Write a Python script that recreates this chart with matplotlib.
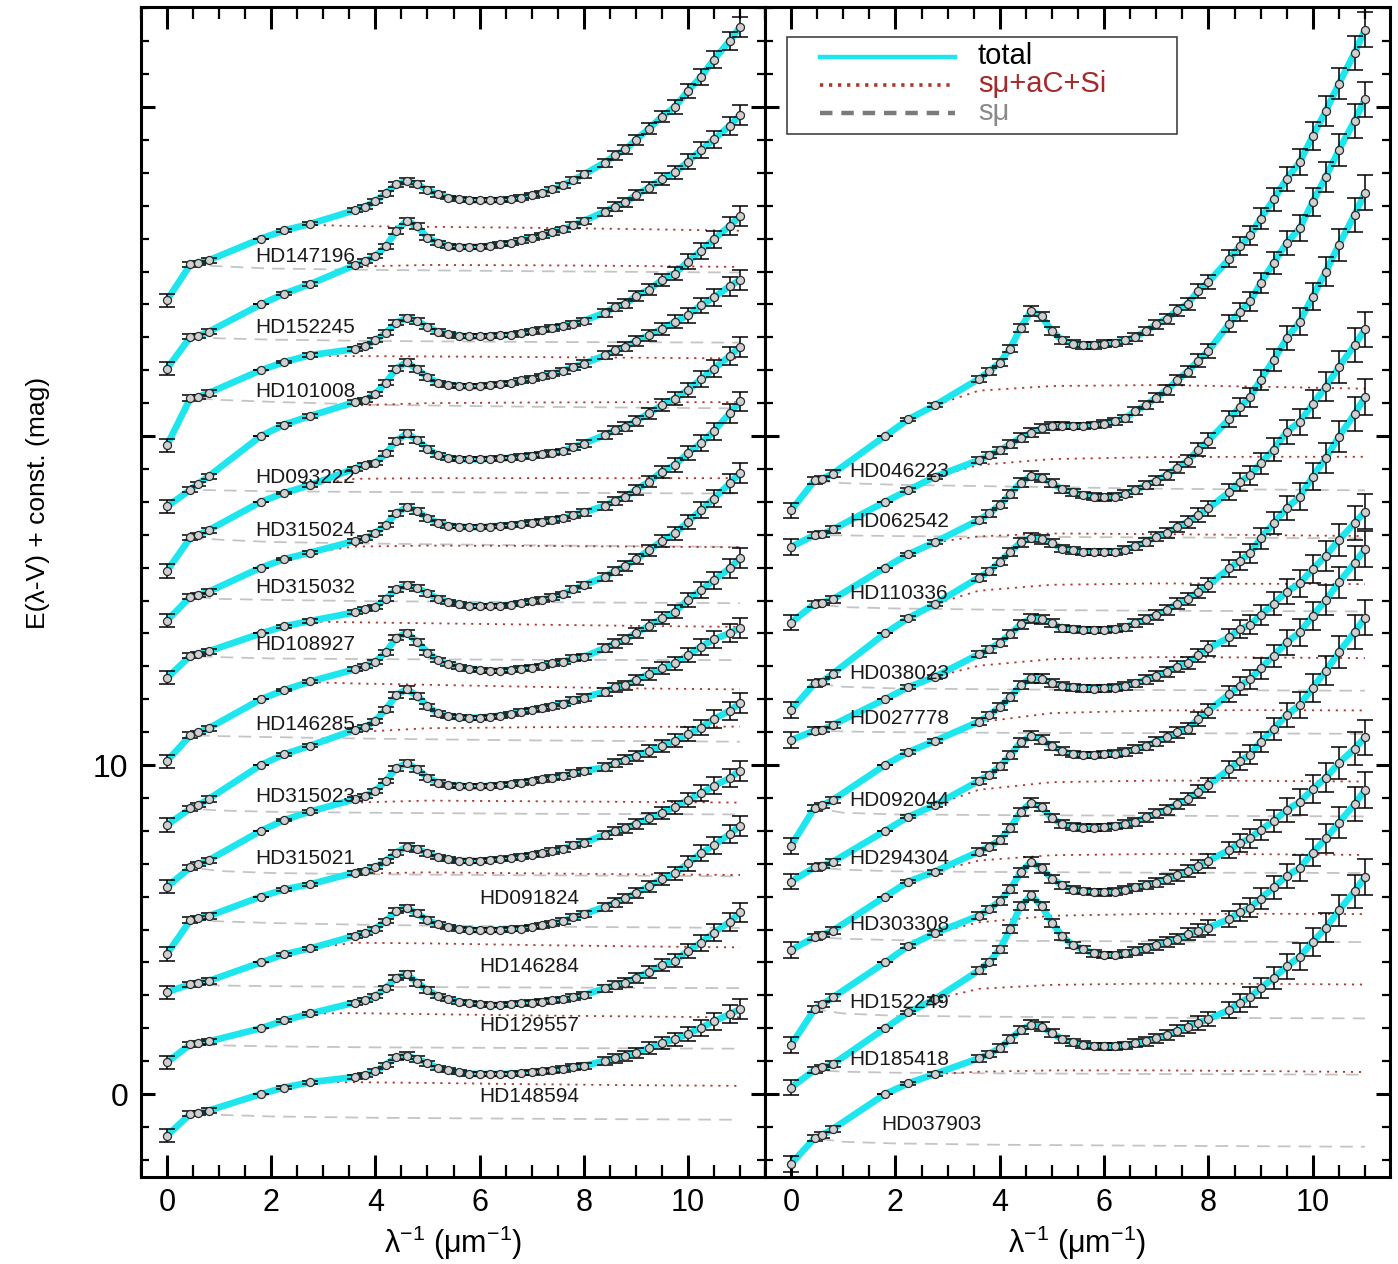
import matplotlib
matplotlib.use('Agg')
import matplotlib.pyplot as plt
from matplotlib.lines import Line2D
from matplotlib.patches import Rectangle
from matplotlib.ticker import MultipleLocator, FixedLocator

plt.rcParams['font.family'] = ['Liberation Sans', 'DejaVu Sans']
plt.rcParams['mathtext.fontset'] = 'custom'
plt.rcParams['mathtext.rm'] = 'Liberation Sans'
plt.rcParams['mathtext.default'] = 'regular'

# ---------------- data ----------------
# observed wavenumbers (1/micron)
X = [0, 0.45, 0.6, 0.8, 1.8, 2.25, 2.75,
     3.6, 3.8, 4.0, 4.2, 4.4, 4.6, 4.8, 5.0, 5.2, 5.4, 5.6, 5.8, 6.0,
     6.2, 6.4, 6.6, 6.8, 7.0, 7.2, 7.4, 7.6, 7.8, 8.0,
     8.4, 8.6, 8.8, 9.0, 9.25, 9.5, 9.75, 10.0, 10.25, 10.5, 10.8, 11.0]
# model nodes
XT = [0, 0.45, 0.8, 1.8, 2.75, 3.6, 5.0, 7.0, 9.0, 11.0]   # s-mu + aC + Si
XD = [0, 0.45, 1.0, 2.0, 4.0, 7.0, 11.0]                   # s-mu

ERR_L = [0.20, 0.08, 0.06, 0.08, 0.0, 0.04, 0.05,
         0.06, 0.06, 0.06, 0.07, 0.08, 0.10, 0.09, 0.08, 0.07, 0.06, 0.06, 0.06, 0.06,
         0.06, 0.06, 0.06, 0.07, 0.07, 0.07, 0.08, 0.08, 0.09, 0.10,
         0.12, 0.13, 0.14, 0.15, 0.17, 0.18, 0.20, 0.22, 0.24, 0.26, 0.28, 0.30]
ERR_R = [0.24, 0.10, 0.08, 0.10, 0.0, 0.05, 0.06,
         0.10, 0.10, 0.11, 0.12, 0.13, 0.14, 0.13, 0.12, 0.11, 0.10, 0.10, 0.10, 0.10,
         0.10, 0.11, 0.12, 0.13, 0.14, 0.15, 0.16, 0.18, 0.20, 0.22,
         0.25, 0.27, 0.29, 0.31, 0.34, 0.37, 0.40, 0.42, 0.45, 0.48, 0.51, 0.54]

# ---- left panel: E(lambda-V) ----
E_HD147196 = [-1.87, -0.78, -0.73, -0.66, 0, 0.25, 0.45,
              0.86, 0.97, 1.14, 1.38, 1.65, 1.75, 1.65, 1.48, 1.35, 1.25, 1.20, 1.17, 1.16,
              1.17, 1.17, 1.20, 1.25, 1.32, 1.38, 1.50, 1.62, 1.78, 1.95,
              2.31, 2.53, 2.71, 3.00, 3.34, 3.71, 4.00, 4.49, 4.92, 5.44, 6.01, 6.43]
E_HD152245 = [-1.95, -0.98, -0.96, -0.83, 0, 0.33, 0.62,
              1.19, 1.31, 1.47, 1.77, 2.23, 2.54, 2.38, 2.03, 1.87, 1.78, 1.75, 1.75, 1.75,
              1.78, 1.83, 1.87, 1.95, 2.03, 2.10, 2.19, 2.28, 2.41, 2.54,
              2.82, 2.97, 3.10, 3.32, 3.55, 3.81, 4.01, 4.34, 4.69, 5.02, 5.43, 5.75]
E_HD101008 = [-2.28, -0.84, -0.81, -0.69, 0, 0.25, 0.46,
              0.64, 0.74, 0.91, 1.14, 1.44, 1.59, 1.50, 1.32, 1.17, 1.09, 1.05, 1.03, 1.03,
              1.04, 1.06, 1.08, 1.13, 1.18, 1.23, 1.28, 1.34, 1.42, 1.50,
              1.75, 1.92, 2.02, 2.25, 2.45, 2.74, 2.94, 3.30, 3.63, 3.98, 4.39, 4.68]
E_HD093222 = [-2.14, -1.63, -1.45, -1.22, 0, 0.35, 0.61,
              1.03, 1.09, 1.29, 1.62, 2.05, 2.25, 2.03, 1.79, 1.61, 1.56, 1.52, 1.51, 1.51,
              1.54, 1.57, 1.61, 1.69, 1.74, 1.81, 1.90, 1.98, 2.10, 2.20,
              2.45, 2.60, 2.71, 2.89, 3.06, 3.26, 3.47, 3.67, 3.97, 4.22, 4.55, 4.75]
E_HD315024 = [-2.10, -1.08, -1.01, -0.86, 0, 0.27, 0.51,
              1.01, 1.12, 1.19, 1.47, 1.85, 2.08, 1.88, 1.62, 1.42, 1.34, 1.30, 1.29, 1.29,
              1.31, 1.32, 1.34, 1.37, 1.40, 1.44, 1.49, 1.54, 1.67, 1.77,
              2.03, 2.18, 2.28, 2.46, 2.69, 2.94, 3.14, 3.40, 3.73, 4.05, 4.43, 4.71]
E_HD315032 = [-1.61, -0.88, -0.83, -0.73, 0, 0.26, 0.46,
              0.81, 0.89, 1.05, 1.30, 1.65, 1.84, 1.73, 1.50, 1.37, 1.28, 1.25, 1.23, 1.23,
              1.25, 1.27, 1.30, 1.33, 1.37, 1.40, 1.45, 1.50, 1.60, 1.68,
              1.88, 2.03, 2.16, 2.36, 2.61, 2.92, 3.12, 3.48, 3.78, 4.15, 4.69, 5.05]
E_HD108927 = [-1.35, -0.68, -0.61, -0.54, 0, 0.22, 0.38,
              0.64, 0.73, 0.81, 1.06, 1.34, 1.47, 1.39, 1.22, 1.06, 0.96, 0.89, 0.84, 0.83,
              0.83, 0.84, 0.88, 0.93, 0.98, 1.03, 1.11, 1.19, 1.34, 1.47,
              1.72, 1.90, 2.05, 2.25, 2.53, 2.81, 3.04, 3.39, 3.75, 4.10, 4.56, 4.88]
E_HD146285 = [-1.88, -1.09, -1.01, -0.88, 0, 0.28, 0.54,
              0.91, 1.01, 1.14, 1.43, 1.87, 2.02, 1.75, 1.42, 1.19, 1.07, 0.99, 0.93, 0.89,
              0.87, 0.87, 0.89, 0.93, 0.96, 1.01, 1.09, 1.14, 1.25, 1.29,
              1.55, 1.70, 1.82, 2.01, 2.23, 2.46, 2.66, 3.02, 3.32, 3.62, 3.98, 4.29]
E_HD315023 = [-1.82, -1.32, -1.22, -1.03, 0, 0.33, 0.59,
              1.07, 1.15, 1.35, 1.69, 2.13, 2.30, 2.11, 1.79, 1.57, 1.49, 1.45, 1.44, 1.44,
              1.47, 1.50, 1.55, 1.62, 1.67, 1.72, 1.79, 1.87, 1.97, 2.05,
              2.23, 2.36, 2.43, 2.58, 2.77, 2.94, 3.09, 3.34, 3.60, 3.82, 4.01, 4.16]
E_HD315021 = [-1.70, -1.11, -1.01, -0.89, 0, 0.33, 0.59,
              0.96, 1.06, 1.22, 1.52, 1.90, 2.06, 1.88, 1.62, 1.47, 1.39, 1.37, 1.35, 1.35,
              1.37, 1.39, 1.42, 1.47, 1.52, 1.57, 1.62, 1.67, 1.75, 1.82,
              1.93, 2.06, 2.16, 2.28, 2.43, 2.58, 2.74, 2.94, 3.14, 3.40, 3.65, 3.88]
E_HD091824 = [-1.74, -0.71, -0.66, -0.59, 0, 0.22, 0.38,
              0.73, 0.79, 0.89, 1.09, 1.34, 1.52, 1.45, 1.32, 1.20, 1.14, 1.09, 1.09, 1.09,
              1.12, 1.14, 1.17, 1.22, 1.27, 1.32, 1.39, 1.45, 1.57, 1.64,
              1.88, 2.00, 2.08, 2.21, 2.38, 2.55, 2.72, 2.94, 3.14, 3.37, 3.60, 3.83]
E_HD146284 = [-0.90, -0.66, -0.61, -0.56, 0, 0.25, 0.43,
              0.81, 0.89, 1.03, 1.26, 1.57, 1.65, 1.49, 1.29, 1.16, 1.09, 1.03, 0.99, 0.98,
              0.98, 0.99, 1.01, 1.03, 1.08, 1.13, 1.19, 1.26, 1.37, 1.47,
              1.69, 1.82, 1.95, 2.11, 2.31, 2.55, 2.71, 3.01, 3.32, 3.56, 3.90, 4.15]
E_HD129557 = [-1.03, -0.49, -0.46, -0.40, 0, 0.24, 0.45,
              0.78, 0.85, 0.98, 1.22, 1.54, 1.64, 1.39, 1.16, 0.98, 0.88, 0.81, 0.76, 0.73,
              0.71, 0.71, 0.73, 0.76, 0.78, 0.81, 0.85, 0.88, 0.95, 1.01,
              1.21, 1.32, 1.39, 1.54, 1.71, 1.92, 2.05, 2.35, 2.60, 2.91, 3.23, 3.52]
E_HD148594 = [-1.26, -0.60, -0.58, -0.50, 0, 0.20, 0.36,
              0.52, 0.59, 0.69, 0.89, 1.12, 1.17, 1.07, 0.94, 0.79, 0.72, 0.66, 0.62, 0.61,
              0.61, 0.61, 0.62, 0.64, 0.66, 0.69, 0.72, 0.76, 0.81, 0.86,
              1.01, 1.09, 1.16, 1.26, 1.40, 1.55, 1.67, 1.83, 2.02, 2.21, 2.43, 2.58]

# ---- right panel: E(lambda-V) ----
E_HD046223 = [-2.26, -1.35, -1.30, -1.14, 0, 0.51, 0.93,
              1.74, 1.97, 2.23, 2.66, 3.29, 3.80, 3.64, 3.19, 2.91, 2.81, 2.76, 2.76, 2.81,
              2.83, 2.91, 3.01, 3.19, 3.40, 3.57, 3.82, 4.02, 4.41, 4.68,
              5.39, 5.77, 6.10, 6.61, 7.19, 7.82, 8.33, 9.12, 9.88, 10.71, 11.64, 12.35]
E_HD062542 = [-1.37, -1.01, -0.98, -0.84, 0, 0.36, 0.76,
              1.27, 1.42, 1.57, 1.75, 1.95, 2.10, 2.23, 2.30, 2.31, 2.31, 2.31, 2.33, 2.38,
              2.45, 2.54, 2.76, 2.94, 3.17, 3.40, 3.70, 3.96, 4.29, 4.59,
              5.42, 5.78, 6.09, 6.65, 7.26, 7.87, 8.32, 9.12, 9.88, 10.69, 11.58, 12.23]
E_HD110336 = [-1.67, -1.10, -1.06, -0.96, 0, 0.41, 0.77,
              1.45, 1.65, 1.91, 2.24, 2.58, 2.79, 2.72, 2.57, 2.38, 2.29, 2.21, 2.16, 2.14,
              2.16, 2.25, 2.35, 2.51, 2.64, 2.82, 3.04, 3.25, 3.58, 3.86,
              4.52, 4.88, 5.18, 5.71, 6.31, 6.97, 7.48, 8.24, 9.00, 9.81, 10.72, 11.40]
E_HD038023 = [-2.33, -1.52, -1.47, -1.22, 0, 0.47, 0.89,
              1.70, 1.89, 2.18, 2.48, 2.77, 2.91, 2.86, 2.74, 2.58, 2.53, 2.48, 2.48, 2.48,
              2.48, 2.55, 2.65, 2.78, 2.94, 3.04, 3.24, 3.39, 3.60, 3.80,
              4.30, 4.61, 4.81, 5.17, 5.59, 6.13, 6.43, 6.97, 7.50, 8.10, 8.76, 9.24]
E_HD027778 = [-1.24, -0.95, -0.93, -0.78, 0, 0.37, 0.68,
              1.37, 1.52, 1.72, 1.98, 2.28, 2.46, 2.43, 2.31, 2.16, 2.13, 2.11, 2.11, 2.11,
              2.13, 2.19, 2.31, 2.43, 2.56, 2.71, 2.91, 3.04, 3.27, 3.47,
              3.98, 4.21, 4.44, 4.89, 5.35, 5.81, 6.16, 6.77, 7.33, 7.98, 8.67, 9.18]
E_HD092044 = [-2.45, -1.30, -1.22, -1.06, 0, 0.40, 0.73,
              1.32, 1.52, 1.77, 2.06, 2.43, 2.64, 2.63, 2.50, 2.40, 2.36, 2.33, 2.32, 2.33,
              2.35, 2.40, 2.48, 2.60, 2.71, 2.84, 2.99, 3.11, 3.34, 3.55,
              3.88, 4.13, 4.26, 4.56, 4.91, 5.27, 5.52, 5.96, 6.36, 6.84, 7.35, 7.70]
E_HD294304 = [-1.54, -1.11, -1.06, -0.94, 0, 0.43, 0.78,
              1.52, 1.70, 1.96, 2.30, 2.69, 2.89, 2.77, 2.58, 2.43, 2.33, 2.30, 2.30, 2.33,
              2.35, 2.40, 2.48, 2.58, 2.71, 2.84, 2.99, 3.11, 3.40, 3.65,
              4.16, 4.41, 4.61, 4.94, 5.32, 5.73, 6.03, 6.54, 7.02, 7.55, 8.14, 8.56]
E_HD303308 = [-1.62, -1.23, -1.16, -1.03, 0, 0.46, 0.76,
              1.37, 1.52, 1.72, 2.08, 2.58, 2.86, 2.72, 2.38, 2.21, 2.13, 2.10, 2.10, 2.11,
              2.15, 2.21, 2.28, 2.41, 2.53, 2.64, 2.82, 2.96, 3.19, 3.40,
              3.87, 4.13, 4.31, 4.71, 5.10, 5.52, 5.83, 6.35, 6.87, 7.43, 8.04, 8.48]
E_HD152249 = [-2.51, -1.42, -1.27, -1.06, 0, 0.50, 0.89,
              1.42, 1.62, 1.87, 2.23, 2.74, 3.06, 2.86, 2.55, 2.35, 2.21, 2.17, 2.14, 2.13,
              2.15, 2.21, 2.28, 2.35, 2.43, 2.55, 2.65, 2.78, 2.92, 3.09,
              3.42, 3.63, 3.77, 4.03, 4.30, 4.63, 4.88, 5.27, 5.62, 6.06, 6.50, 6.84]
E_HD185418 = [-1.80, -1.27, -1.19, -1.09, 0, 0.48, 0.88,
              1.76, 2.02, 2.40, 3.01, 3.72, 4.04, 3.72, 3.21, 2.79, 2.53, 2.40, 2.28, 2.23,
              2.23, 2.28, 2.35, 2.43, 2.53, 2.61, 2.71, 2.86, 2.96, 3.06,
              3.32, 3.52, 3.67, 3.94, 4.28, 4.63, 4.88, 5.34, 5.77, 6.25, 6.81, 7.24]
E_HD037903 = [-2.12, -1.34, -1.24, -1.06, 0, 0.33, 0.61,
              1.09, 1.22, 1.40, 1.67, 1.95, 2.11, 2.05, 1.85, 1.67, 1.57, 1.50, 1.46, 1.45,
              1.45, 1.48, 1.55, 1.60, 1.70, 1.80, 1.93, 2.04, 2.16, 2.28,
              2.56, 2.78, 2.95, 3.22, 3.53, 3.88, 4.18, 4.62, 5.06, 5.58, 6.16, 6.60]

# ---- model components: s-mu + aC + Si (at XT) ----
T_HD147196 = [-1.87, -0.78, -0.66, 0, 0.42, 0.38, 0.36, 0.33, 0.29, 0.24]
T_HD152245 = [-1.95, -0.98, -0.83, 0, 0.62, 1.15, 1.20, 1.19, 1.17, 1.14]
T_HD101008 = [-2.28, -0.84, -0.69, 0, 0.44, 0.43, 0.42, 0.40, 0.38, 0.36]
T_HD093222 = [-2.14, -1.63, -1.22, 0, 0.61, 0.93, 1.00, 1.02, 1.03, 1.03]
T_HD315024 = [-2.10, -1.08, -0.86, 0, 0.51, 0.70, 0.72, 0.72, 0.72, 0.72]
T_HD315032 = [-1.61, -0.88, -0.73, 0, 0.46, 0.64, 0.67, 0.66, 0.64, 0.62]
T_HD108927 = [-1.35, -0.68, -0.54, 0, 0.36, 0.34, 0.31, 0.27, 0.23, 0.20]
T_HD146285 = [-1.88, -1.09, -0.88, 0, 0.52, 0.48, 0.44, 0.38, 0.33, 0.30]
T_HD315023 = [-1.82, -1.32, -1.03, 0, 0.59, 1.00, 1.12, 1.15, 1.16, 1.17]
T_HD315021 = [-1.70, -1.11, -0.89, 0, 0.59, 0.86, 0.92, 0.90, 0.88, 0.86]
T_HD091824 = [-1.74, -0.71, -0.59, 0, 0.38, 0.70, 0.74, 0.71, 0.68, 0.66]
T_HD146284 = [-0.90, -0.66, -0.56, 0, 0.43, 0.60, 0.58, 0.53, 0.49, 0.46]
T_HD129557 = [-1.03, -0.49, -0.40, 0, 0.45, 0.46, 0.43, 0.39, 0.36, 0.33]
T_HD148594 = [-1.26, -0.60, -0.50, 0, 0.36, 0.36, 0.34, 0.30, 0.27, 0.25]
T_HD046223 = [-2.26, -1.35, -1.14, 0, 0.93, 1.38, 1.52, 1.55, 1.50, 1.44]
T_HD062542 = [-1.37, -1.01, -0.84, 0, 0.76, 1.12, 1.30, 1.36, 1.37, 1.37]
T_HD110336 = [-1.67, -1.10, -0.96, 0, 0.77, 0.95, 1.04, 1.02, 0.99, 0.96]
T_HD038023 = [-2.33, -1.52, -1.22, 0, 0.89, 1.30, 1.48, 1.52, 1.51, 1.50]
T_HD027778 = [-1.24, -0.95, -0.78, 0, 0.68, 1.02, 1.22, 1.28, 1.27, 1.25]
T_HD092044 = [-2.45, -1.30, -1.06, 0, 0.73, 1.30, 1.58, 1.66, 1.67, 1.66]
T_HD294304 = [-1.54, -1.11, -0.94, 0, 0.78, 1.25, 1.48, 1.53, 1.52, 1.50]
T_HD303308 = [-1.62, -1.23, -1.03, 0, 0.76, 1.10, 1.26, 1.30, 1.29, 1.27]
T_HD152249 = [-2.51, -1.42, -1.06, 0, 0.89, 1.22, 1.42, 1.48, 1.48, 1.47]
T_HD185418 = [-1.80, -1.27, -1.09, 0, 0.88, 1.20, 1.32, 1.36, 1.35, 1.33]
T_HD037903 = [-2.12, -1.34, -1.06, 0, 0.61, 0.68, 0.72, 0.72, 0.70, 0.67]

# ---- model components: s-mu only (at XD) ----
D_HD147196 = [-1.87, -0.78, -0.84, -0.91, -0.95, -0.99, -1.03]
D_HD152245 = [-1.95, -0.98, -1.03, -1.07, -1.11, -1.14, -1.16]
D_HD101008 = [-2.28, -0.84, -0.90, -0.96, -1.05, -1.11, -1.16]
D_HD093222 = [-2.14, -1.63, -1.65, -1.68, -1.70, -1.72, -1.75]
D_HD315024 = [-2.10, -1.08, -1.15, -1.22, -1.27, -1.32, -1.37]
D_HD315032 = [-1.61, -0.88, -0.95, -0.98, -1.02, -1.05, -1.08]
D_HD108927 = [-1.35, -0.68, -0.72, -0.76, -0.78, -0.80, -0.81]
D_HD146285 = [-1.88, -1.09, -1.12, -1.15, -1.20, -1.25, -1.29]
D_HD315023 = [-1.82, -1.32, -1.38, -1.42, -1.45, -1.48, -1.50]
D_HD315021 = [-1.70, -1.11, -1.22, -1.28, -1.32, -1.35, -1.38]
D_HD091824 = [-1.74, -0.71, -0.75, -0.80, -0.86, -0.91, -0.95]
D_HD146284 = [-0.90, -0.66, -0.70, -0.72, -0.74, -0.76, -0.78]
D_HD129557 = [-1.03, -0.49, -0.52, -0.55, -0.58, -0.60, -0.62]
D_HD148594 = [-1.26, -0.60, -0.63, -0.68, -0.72, -0.75, -0.78]
D_HD046223 = [-2.26, -1.35, -1.43, -1.48, -1.53, -1.60, -1.65]
D_HD062542 = [-1.37, -1.01, -1.02, -1.04, -1.06, -1.08, -1.11]
D_HD110336 = [-1.67, -1.10, -1.20, -1.24, -1.28, -1.31, -1.33]
D_HD038023 = [-2.33, -1.52, -1.62, -1.67, -1.70, -1.72, -1.74]
D_HD027778 = [-1.24, -0.95, -0.98, -1.00, -1.02, -1.03, -1.05]
D_HD092044 = [-2.45, -1.30, -1.45, -1.50, -1.52, -1.54, -1.56]
D_HD294304 = [-1.54, -1.11, -1.18, -1.23, -1.25, -1.27, -1.28]
D_HD303308 = [-1.62, -1.23, -1.28, -1.32, -1.34, -1.36, -1.38]
D_HD152249 = [-2.51, -1.42, -1.55, -1.62, -1.65, -1.68, -1.70]
D_HD185418 = [-1.80, -1.27, -1.32, -1.35, -1.37, -1.39, -1.41]
D_HD037903 = [-2.12, -1.34, -1.45, -1.50, -1.54, -1.57, -1.60]

LEFT_NAMES = ['HD147196', 'HD152245', 'HD101008', 'HD093222', 'HD315024', 'HD315032',
              'HD108927', 'HD146285', 'HD315023', 'HD315021', 'HD091824', 'HD146284',
              'HD129557', 'HD148594']
LEFT_CONST = [26, 24, 22, 20, 18, 16, 14, 12, 10, 8, 6, 4, 2, 0]
LEFT_E = [E_HD147196, E_HD152245, E_HD101008, E_HD093222, E_HD315024, E_HD315032,
          E_HD108927, E_HD146285, E_HD315023, E_HD315021, E_HD091824, E_HD146284,
          E_HD129557, E_HD148594]
LEFT_T = [T_HD147196, T_HD152245, T_HD101008, T_HD093222, T_HD315024, T_HD315032,
          T_HD108927, T_HD146285, T_HD315023, T_HD315021, T_HD091824, T_HD146284,
          T_HD129557, T_HD148594]
LEFT_D = [D_HD147196, D_HD152245, D_HD101008, D_HD093222, D_HD315024, D_HD315032,
          D_HD108927, D_HD146285, D_HD315023, D_HD315021, D_HD091824, D_HD146284,
          D_HD129557, D_HD148594]

RIGHT_NAMES = ['HD046223', 'HD062542', 'HD110336', 'HD038023', 'HD027778', 'HD092044',
               'HD294304', 'HD303308', 'HD152249', 'HD185418', 'HD037903']
RIGHT_CONST = [20, 18, 16, 14, 12, 10, 8, 6, 4, 2, 0]
RIGHT_E = [E_HD046223, E_HD062542, E_HD110336, E_HD038023, E_HD027778, E_HD092044,
           E_HD294304, E_HD303308, E_HD152249, E_HD185418, E_HD037903]
RIGHT_T = [T_HD046223, T_HD062542, T_HD110336, T_HD038023, T_HD027778, T_HD092044,
           T_HD294304, T_HD303308, T_HD152249, T_HD185418, T_HD037903]
RIGHT_D = [D_HD046223, D_HD062542, D_HD110336, D_HD038023, D_HD027778, D_HD092044,
           D_HD294304, D_HD303308, D_HD152249, D_HD185418, D_HD037903]

# label anchor positions (data coords, left edge / vertical centre)
LEFT_LAB_X = [1.70] * 10 + [6.0] * 4
LEFT_LAB_Y = [25.47, 23.31, 21.34, 18.75, 17.14, 15.41, 13.65, 11.22, 9.03, 7.17,
              5.93, 3.89, 2.07, -0.06]
RIGHT_LAB_X = [1.12] * 10 + [1.72]
RIGHT_LAB_Y = [18.91, 17.39, 15.20, 12.77, 11.43, 8.91, 7.17, 5.14, 2.77, 1.06, -0.91]

# ---------------- styling ----------------
CYAN = '#1de6ee'
BROWN = '#b0362c'
LGRAY = '#c4c4c4'

W, H = 1398, 1264
fig = plt.figure(figsize=(W / 100, H / 100), dpi=100)
bot = 1 - 1177 / H
hgt = 1170 / H
axL = fig.add_axes([141 / W, bot, 624 / W, hgt])
axR = fig.add_axes([765 / W, bot, 625 / W, hgt])


def draw_panel(ax, consts, Es, Ts, Ds, err):
    for c, e, t, d in zip(consts, Es, Ts, Ds):
        y = [c + v for v in e]
        ax.plot(XD, [c + v for v in d], color=LGRAY, lw=1.3, ls=(0, (7, 4.5)), zorder=1)
        ax.plot(XT, [c + v for v in t], color=BROWN, lw=1.3, ls=(0, (1.2, 3.2)), zorder=2)
        ax.plot(X, y, color=CYAN, lw=4.8, solid_capstyle='round',
                solid_joinstyle='round', zorder=3)
        ax.errorbar(X, y, yerr=err, fmt='none', ecolor='black', elinewidth=1.1,
                    capsize=5.8, capthick=1.1, zorder=4)
        ax.plot(X, y, 'o', ms=5.8, mfc='#d0d0d0', mec='#2a2a2a', mew=0.9, zorder=5)


for arr in LEFT_E + RIGHT_E:
    assert len(arr) == len(X)

draw_panel(axL, LEFT_CONST, LEFT_E, LEFT_T, LEFT_D, ERR_L)
draw_panel(axR, RIGHT_CONST, RIGHT_E, RIGHT_T, RIGHT_D, ERR_R)

for name, lx, ly in zip(LEFT_NAMES, LEFT_LAB_X, LEFT_LAB_Y):
    axL.text(lx, ly, name, fontsize=15, color='#1a1a1a', ha='left', va='center', zorder=6)
for name, lx, ly in zip(RIGHT_NAMES, RIGHT_LAB_X, RIGHT_LAB_Y):
    axR.text(lx, ly, name, fontsize=15, color='#1a1a1a', ha='left', va='center', zorder=6)

for ax in (axL, axR):
    ax.set_xlim(-0.5, 11.48)
    ax.set_ylim(-2.52, 33.04)
    ax.xaxis.set_major_locator(MultipleLocator(2))
    ax.xaxis.set_minor_locator(MultipleLocator(0.5))
    ax.yaxis.set_major_locator(FixedLocator([0, 10, 20, 30]))
    ax.yaxis.set_minor_locator(MultipleLocator(1))
    ax.tick_params(which='both', direction='in', top=True, right=True, colors='black')
    ax.tick_params(axis='x', which='major', length=16, width=2.2, labelsize=22, pad=8)
    ax.tick_params(axis='x', which='minor', length=8.5, width=1.6)
    ax.tick_params(axis='y', which='major', length=10, width=2.2, labelsize=23, pad=9)
    ax.tick_params(axis='y', which='minor', length=5.5, width=1.6)
    for sp in ax.spines.values():
        sp.set_linewidth(2.2)
    ax.text(0.5, -(1243 - 1177) / 1170.0, 'λ$^{-1}$ (μm$^{-1}$)', transform=ax.transAxes,
            fontsize=22, ha='center', va='center')
axL.set_yticklabels(['0', '10', '', ''])
axR.set_yticklabels([])

fig.text(0.027, 0.602, 'E(λ-V) + const. (mag)', rotation=90, fontsize=19,
         ha='center', va='center')

# legend (drawn by hand)
def ay(py):
    return 1 - (py - 7) / 1170.0

def axx(px):
    return (px - 765) / 625.0

axR.add_patch(Rectangle((axx(787), ay(134)), axx(1177) - axx(787), ay(37) - ay(134),
                        transform=axR.transAxes, fill=True, facecolor='white',
                        edgecolor='#333333', lw=1.1, zorder=8))
leg_items = [('total', CYAN, '-', 3.2, 'black', 57),
             ('sμ+aC+Si', BROWN, (0, (0.9, 1.6)), 2.6, '#a52a2a', 85),
             ('sμ', '#7a7a7a', (0, (2.8, 2.0)), 3.2, '#8a8a8a', 113)]
for lab, col, ls, lw, tcol, py in leg_items:
    axR.add_line(Line2D([axx(820), axx(955)], [ay(py), ay(py)], color=col, ls=ls, lw=lw,
                        transform=axR.transAxes, zorder=9))
    axR.text(axx(978), ay(py + 7), lab, color=tcol, fontsize=21, ha='left',
             va='baseline', transform=axR.transAxes, zorder=9)

fig.savefig('out.png', dpi=100)
